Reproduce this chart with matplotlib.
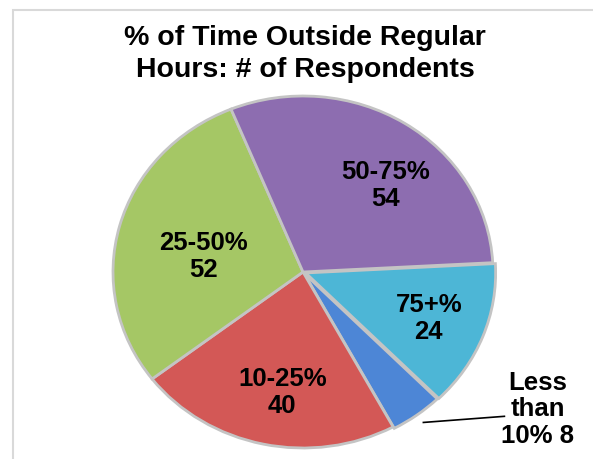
import matplotlib.pyplot as plt
import matplotlib.patches as patches
import numpy as np

plt.rcParams['font.family'] = ['Liberation Sans', 'DejaVu Sans']

# Data, in the order Excel draws the slices (clockwise).
categories = ['Less than 10%', '10-25%', '25-50%', '50-75%', '75+%']
respondents = [8, 40, 52, 54, 24]
colors = ['#4D86D6', '#D35856', '#A5C765', '#8D6DB0', '#4DB6D6']
explode = [0.01, 0, 0, 0, 0.015]

fig = plt.figure(figsize=(5.93, 4.60), dpi=100)

# Light grey chart-area border.
fig.patches.append(patches.Rectangle((13 / 593, -0.05), 1.1, 1 - 11 / 460 + 0.05,
                                     transform=fig.transFigure, fill=False,
                                     edgecolor='#D9D9D9', linewidth=1.5))

fig.text(305 / 593, 1 - 54 / 460, '% of Time Outside Regular\nHours: # of Respondents',
         ha='center', va='center', fontsize=20.5, fontweight='bold', linespacing=1.3)

# Pie is slightly wider than tall in the reference.
ax = fig.add_axes([113 / 593, 11 / 460, 380 / 593, 352 / 460])
wedges, _ = ax.pie(respondents, colors=colors, explode=explode, startangle=-45.5,
                   counterclock=False,
                   wedgeprops=dict(edgecolor='#C4C4C4', linewidth=2))
ax.set_aspect('auto')
ax.set_xlim(-1, 1)
ax.set_ylim(-1, 1)
ax.axis('off')

# Label radius and angle tweak for each slice.
label_r = [0, 0.69, 0.53, 0.66, 0.71]
label_da = [0, 3, 5, -9, 0]
for w, cat, val, r, da in zip(wedges, categories, respondents, label_r, label_da):
    mid = np.deg2rad((w.theta1 + w.theta2) / 2 + da)
    if cat == 'Less than 10%':
        x0, y0 = 1.0 * np.cos(mid) + 0.04, 1.0 * np.sin(mid) - 0.05
        ax.plot([x0, 1.06], [y0, -0.82], color='black', lw=1.2, clip_on=False)
        ax.text(1.235, -0.775, 'Less\nthan\n10% ' + str(val), ha='center', va='center',
                fontsize=18.5, fontweight='bold', linespacing=1.15)
        continue
    ax.text(r * np.cos(mid), r * np.sin(mid), cat + '\n' + str(val),
            ha='center', va='center', fontsize=18.5, fontweight='bold', linespacing=1.15)

fig.savefig('out.png', dpi=100)
